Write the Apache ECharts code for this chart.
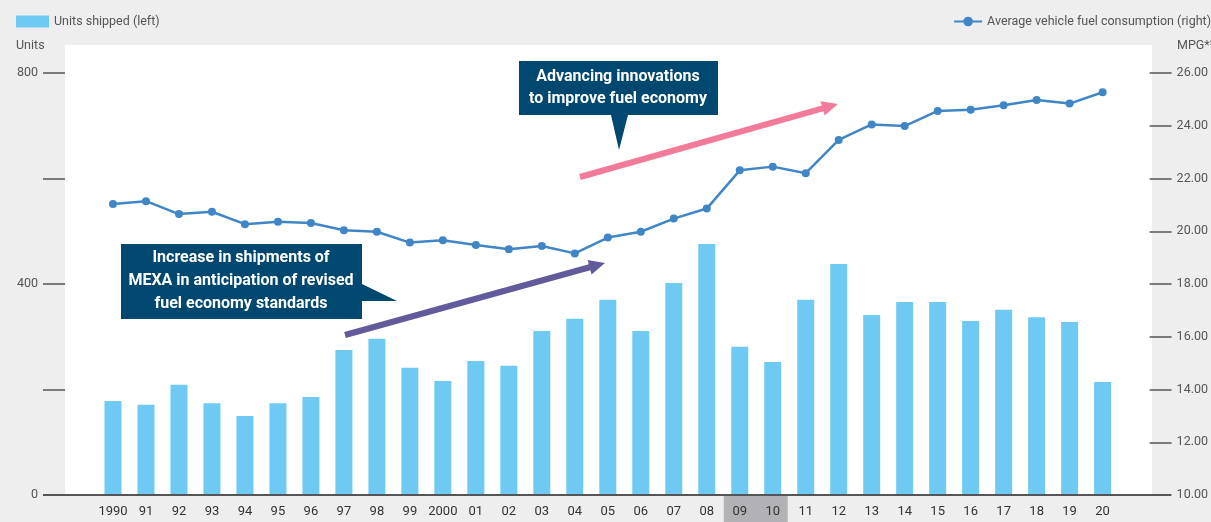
<!DOCTYPE html>
<html>
<head>
<meta charset="utf-8">
<script src="https://cdn.jsdelivr.net/npm/echarts@6/dist/echarts.min.js"></script>
<style>
html,body{margin:0;padding:0;background:#eeeeee;}
#c{width:1211px;height:522px;}
</style>
</head>
<body>
<div id="c"></div>
<script>
const years = ['1990','91','92','93','94','95','96','97','98','99','2000','01','02','03','04','05','06','07','08','09','10','11','12','13','14','15','16','17','18','19','20'];
const unitsShipped = [178,171,209,174,150,174,186,275,296,241,216,254,245,311,334,370,311,402,476,281,252,370,438,341,366,366,330,351,337,328,214];
const fuelMpg = [21.03,21.14,20.65,20.74,20.27,20.36,20.31,20.04,19.98,19.57,19.66,19.48,19.32,19.44,19.16,19.76,19.98,20.48,20.86,22.31,22.45,22.20,23.46,24.05,23.99,24.56,24.61,24.78,24.98,24.84,25.27];
const leftTicksShown = [0,400,800];
const barName = 'Units shipped (left)';
const lineName = 'Average vehicle fuel consumption (right)';
const highlighted = ['09','10'];

const FONT = '"Liberation Sans Narrow","Roboto","Liberation Sans",sans-serif';
const chart = echarts.init(document.getElementById('c'), null, {renderer:'canvas'});

function arrow(x1,y1,x2,y2,color,w,hl,hw){
  const dx=x2-x1, dy=y2-y1, L=Math.sqrt(dx*dx+dy*dy);
  const ux=dx/L, uy=dy/L, px=-uy, py=ux;
  const bx=x2-ux*hl, by=y2-uy*hl;
  return [
    {type:'line',z:20,shape:{x1:x1,y1:y1,x2:bx+ux*1,y2:by+uy*1},style:{stroke:color,lineWidth:w}},
    {type:'polygon',z:20,shape:{points:[[x2,y2],[bx+px*hw/2,by+py*hw/2],[bx-px*hw/2,by-py*hw/2]]},style:{fill:color}}
  ];
}

const graphics = [
  {type:'rect',z:-10,shape:{x:65,y:45,width:1087,height:450},style:{fill:'#ffffff'}},
  {type:'text',left:16,top:39,style:{text:'Units',font:'12.5px '+FONT,fill:'#555'}},
  {type:'text',left:1177,top:39,style:{text:'MPG*²',font:'12.5px '+FONT,fill:'#555'}},
  // annotation box 1
  {type:'polygon',z:20,shape:{points:[[519,61],[718,61],[718,115],[628,115],[619,150],[611,115],[519,115]]},style:{fill:'#00486f'}},
  {type:'text',z:21,style:{text:'Advancing innovations\nto improve fuel economy',x:618,y:88,textAlign:'center',textVerticalAlign:'middle',font:'bold 16px '+FONT,fill:'#ffffff',lineHeight:22}},
  // annotation box 2
  {type:'polygon',z:20,shape:{points:[[121,244],[362,244],[362,284],[397,301],[362,301],[362,319],[121,319]]},style:{fill:'#00486f'}},
  {type:'text',z:21,style:{text:'Increase in shipments of\nMEXA in anticipation of revised\nfuel economy standards',x:241,y:281,textAlign:'center',textVerticalAlign:'middle',font:'bold 16px '+FONT,fill:'#ffffff',lineHeight:23}}
].concat(arrow(580,177,838,104,'#f27b99',6,16,15)).concat(arrow(345,335,605,263,'#615b9b',6,16,15));

const option = {
  backgroundColor:'#eeeeee',
  animation:false,
  textStyle:{fontFamily:FONT},
  legend:[
    {data:[barName],left:16,top:15,padding:0,itemWidth:33,itemHeight:12,itemGap:6,textStyle:{color:'#555',fontSize:12.5,fontFamily:FONT},icon:'rect'},
    {data:[lineName],right:0,top:15,padding:0,itemWidth:28,itemHeight:12,textStyle:{color:'#555',fontSize:12.5,fontFamily:FONT}}
  ],
  grid:{left:96.5,right:91.5,top:73,bottom:27,containLabel:false},
  xAxis:{
    type:'category',data:years,
    axisLine:{show:false},axisTick:{show:false},
    axisLabel:{interval:0,margin:10,color:'#333',fontSize:13,fontFamily:FONT}
  },
  yAxis:[
    {type:'value',min:0,max:800,interval:200,position:'left',offset:31.5,
     axisLine:{show:false},splitLine:{show:false},
     axisTick:{show:true,length:22,lineStyle:{color:'#555',width:1.5}},
     axisLabel:{margin:27,color:'#555',fontSize:12.5,fontFamily:FONT,formatter:v=>leftTicksShown.indexOf(v)>=0?String(v):''}},
    {type:'value',min:10,max:26,interval:2,position:'right',offset:30.5,
     axisLine:{show:false},splitLine:{show:false},
     axisTick:{show:true,length:22,lineStyle:{color:'#555',width:1.5}},
     axisLabel:{margin:27,color:'#555',fontSize:12.5,fontFamily:FONT,formatter:v=>v.toFixed(2)}}
  ],
  series:[
    {name:barName,type:'bar',data:unitsShipped,yAxisIndex:0,barWidth:17,itemStyle:{color:'#6ecaf3'}},
    {name:lineName,type:'line',data:fuelMpg,yAxisIndex:1,symbol:'circle',symbolSize:8,
     lineStyle:{color:'#4086c6',width:2.5},itemStyle:{color:'#4086c6'},z:5}
  ],
  graphic:graphics
};
chart.setOption(option);

const y0 = chart.convertToPixel({yAxisIndex:0},0);
const xa = chart.convertToPixel({xAxisIndex:0},highlighted[0]);
const xb = chart.convertToPixel({xAxisIndex:0},highlighted[highlighted.length-1]);
const band = xb - xa;
const extra = [
  {type:'rect',z:-5,shape:{x:xa-band/2+0.5,y:y0,width:(xb-xa)+band-2,height:522-y0},style:{fill:'#b2b2b6'}},
  {type:'line',z:30,shape:{x1:43,y1:y0,x2:1171,y2:y0},style:{stroke:'#555',lineWidth:2}}
];
chart.setOption({graphic:graphics.concat(extra)});
</script>
</body>
</html>
